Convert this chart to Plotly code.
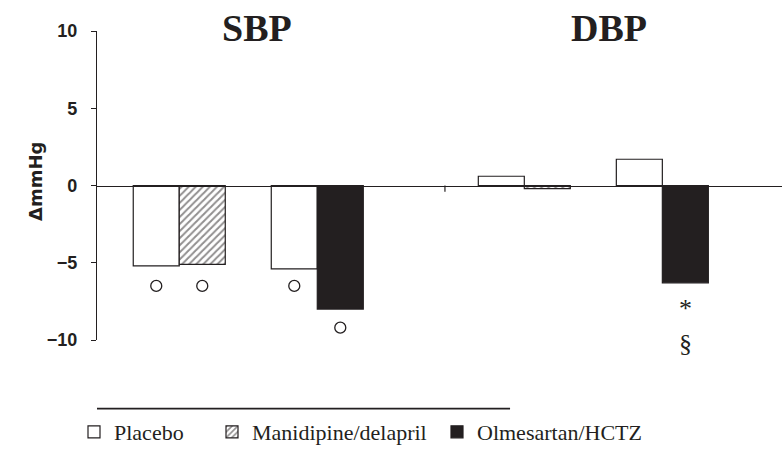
import plotly.graph_objects as go

# ---------------- data ----------------
groups = ["SBP manidipine/delapril study", "SBP olmesartan/HCTZ study",
          "DBP manidipine/delapril study", "DBP olmesartan/HCTZ study"]
placebo = [-5.2, -5.4, 0.6, 1.7]
manidipine_delapril = [-5.1, -0.2]      # SBP, DBP (manidipine/delapril study)
olmesartan_hctz = [-8.0, -6.3]          # SBP, DBP (olmesartan/HCTZ study)
y_ticks = [-10, -5, 0, 5, 10]
y_ticktext = ["\u221210", "\u22125", "0", "5", "10"]
panel_titles = ["SBP", "DBP"]
circle_marks_y = [-6.5, -6.5, -6.5, -9.2]   # "o" marks under SBP bars
star_mark_y = -7.95                          # "*" under olmesartan/HCTZ DBP
section_mark_y = -10.2                       # "§" under olmesartan/HCTZ DBP

# ---------------- layout helpers ----------------
group_pos = [0, 1, 2.5, 3.5]
bar_w = 1 / 3
sep_x = 1.925
y_min, y_max = -10, 10
ink = "#231f20"
serif = "Liberation Serif, Times New Roman, serif"
sans = "Liberation Sans, Arial, sans-serif"


def to_paper_y(v):
    return (v - y_min) / (y_max - y_min)


fig = go.Figure()

fig.add_trace(go.Bar(
    x=group_pos, y=placebo, offset=-bar_w, width=bar_w,
    name="Placebo", legend="legend",
    marker=dict(color="white", line=dict(color=ink, width=1.2)),
))
fig.add_trace(go.Bar(
    x=[group_pos[0], group_pos[2]], y=manidipine_delapril, offset=0, width=bar_w,
    name="Manidipine/delapril", legend="legend2",
    marker=dict(color="white", line=dict(color=ink, width=1.2),
                pattern=dict(shape="/", fgcolor=ink, bgcolor="white",
                             size=5, solidity=0.4)),
))
fig.add_trace(go.Bar(
    x=[group_pos[1], group_pos[3]], y=olmesartan_hctz, offset=0, width=bar_w,
    name="Olmesartan/HCTZ", legend="legend3",
    marker=dict(color=ink, line=dict(color=ink, width=1.2)),
))

circle_x = [group_pos[0] - bar_w / 2, group_pos[0] + bar_w / 2,
            group_pos[1] - bar_w / 2, group_pos[1] + bar_w / 2]
fig.add_trace(go.Scatter(
    x=circle_x, y=circle_marks_y, mode="markers", showlegend=False,
    cliponaxis=False, hoverinfo="skip",
    marker=dict(symbol="circle-open", size=11, color=ink, line=dict(width=1.3)),
))

olme_dbp_x = group_pos[3] + bar_w / 2
fig.add_annotation(x=olme_dbp_x, y=to_paper_y(star_mark_y), yref="paper", text="*",
                   showarrow=False, yanchor="middle",
                   font=dict(family=serif, size=26, color=ink))
fig.add_annotation(x=olme_dbp_x, y=to_paper_y(section_mark_y), yref="paper", text="§",
                   showarrow=False, yanchor="middle",
                   font=dict(family=serif, size=26, color=ink))

# panel titles
title_x = [(group_pos[0] + group_pos[1]) / 2 + 0.063, (group_pos[2] + group_pos[3]) / 2 + 0.114]
for t, tx in zip(panel_titles, title_x):
    fig.add_annotation(x=tx, xref="x", y=1.01, yref="paper", text=t, showarrow=False,
                       yanchor="middle",
                       font=dict(family=serif, size=38, color=ink, weight=700))

# y-axis title
fig.add_annotation(x=-0.108, xref="paper", y=0.513, yref="paper", text="\u0394mmHg",
                   textangle=-90, showarrow=False,
                   font=dict(family="DejaVu Sans, Arial", size=18, color=ink, weight=700))

# separator tick on zero line
fig.add_shape(type="line", x0=sep_x, x1=sep_x, y0=0, y1=-0.4, xref="x", yref="y",
              line=dict(color=ink, width=1.2))

# legend top rule
fig.add_shape(type="line", x0=0, x1=0.603, y0=-0.222, y1=-0.222, xref="paper", yref="paper",
              line=dict(color=ink, width=1.6))

leg_common = dict(orientation="h", yanchor="middle", y=-0.297, xanchor="left",
                  bgcolor="rgba(0,0,0,0)", borderwidth=0,
                  font=dict(family=serif, size=22, color=ink))
fig.update_layout(
    width=782, height=453,
    margin=dict(l=97, r=0, t=31, b=112),
    paper_bgcolor="white", plot_bgcolor="white",
    barmode="overlay",
    showlegend=True,
    legend=dict(x=(74 - 97) / 685, **leg_common),
    legend2=dict(x=(212 - 97) / 685, **leg_common),
    legend3=dict(x=(437 - 97) / 685, **leg_common),
    xaxis=dict(range=[-0.596, 4.367], showgrid=False, zeroline=False,
               showline=True, linecolor=ink, linewidth=1.2,
               anchor="free", position=0.5,
               showticklabels=False, ticks=""),
    yaxis=dict(range=[y_min, y_max], tickvals=y_ticks, ticktext=y_ticktext,
               showgrid=False, zeroline=False, showline=True, linecolor=ink, linewidth=1.2,
               ticks="outside", ticklen=5, tickcolor=ink, tickwidth=1.2,
               ticklabelstandoff=10,
               tickfont=dict(family=sans, size=18, color=ink, weight=700)),
)

fig.write_html("out.html", config={"displayModeBar": False},
               post_script="document.body.style.margin='0';")
